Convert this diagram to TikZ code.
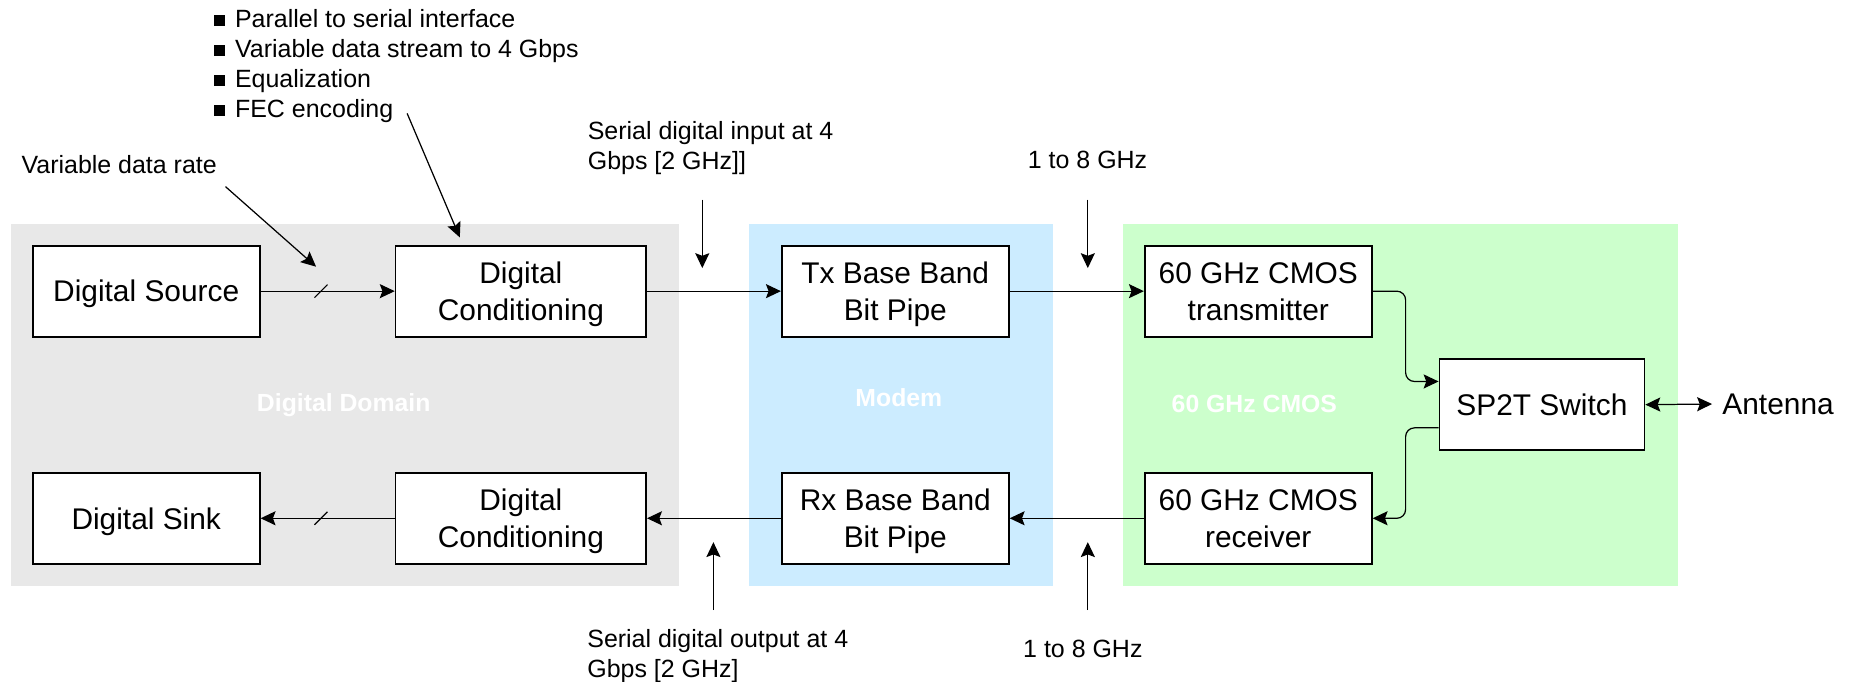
\documentclass[tikz,border=0pt]{standalone}
\usepackage{fontspec}
\setmainfont{Liberation Sans}
\usetikzlibrary{
    arrows.meta,
    calc
}

\definecolor{domaingray}{RGB}{232,232,232}
\definecolor{modemblue}{RGB}{204,236,255}
\definecolor{cmosgreen}{RGB}{204,255,204}

\newcommand{\boxfont}{\fontsize{17}{21}\selectfont}
\newcommand{\notefont}{\fontsize{14.2}{17.1}\selectfont}
\newcommand{\regionfont}{\fontsize{14.1}{17}\selectfont\bfseries}
\newcommand{\sqbullet}{\rule[0.08em]{0.44em}{0.44em}\hspace{0.4em}}

\begin{document}
\begin{tikzpicture}[x=0.2362mm, y=-0.2362mm,
    >={Stealth[length=8.5pt, width=8pt, inset=1.5pt]},
    block/.style={draw, fill=white, line width=1pt, minimum width=45.4mm,
        minimum height=18.2mm, align=center, inner sep=0pt, font=\boxfont,
        text depth=0pt},
    wideblock/.style={block, minimum width=50.1mm},
    region/.style={text=white, font=\regionfont},
    note/.style={font=\notefont, align=left, inner sep=0pt},
    link/.style={->, line width=0.7pt},
    busmark/.style={line width=0.7pt}
]
    \useasboundingbox (0,0) rectangle (1568,577);

    \fill[domaingray] (9,190) rectangle (575,496);
    \fill[modemblue] (634,190) rectangle (891.5,496);
    \fill[cmosgreen] (951,190) rectangle (1421,496);
    \node[region] (digdom) at (291,343) {Digital Domain};
    \node[region] (modem) at (761,337) {Modem};
    \node[region] (cmos) at (1062,342) {60 GHz CMOS};

    \node[block] (src) at (123.8,246.5) {Digital Source};
    \node[wideblock] (condtx) at (441,246.5) {Digital\\Conditioning};
    \node[block] (txbb) at (758,246.5) {Tx Base Band\\Bit Pipe};
    \node[block] (tx) at (1065.3,246.5) {60 GHz CMOS\\transmitter};
    \node[block, minimum width=41mm] (sw) at (1305.5,342.6) {SP2T Switch};
    \node[block] (sink) at (123.8,438.8) {Digital Sink};
    \node[wideblock] (condrx) at (441,438.8) {Digital\\Conditioning};
    \node[block] (rxbb) at (758,438.8) {Rx Base Band\\Bit Pipe};
    \node[block] (rx) at (1065.3,438.8) {60 GHz CMOS\\receiver};
    \node[font=\boxfont, anchor=west, inner sep=0pt] (ant) at (1458,342) {Antenna};

    \draw[link] (src.east) -- (condtx.west);
    \draw[link] (condtx.east) -- (txbb.west);
    \draw[link] (txbb.east) -- (tx.west);
    \draw[link] (rx.west) -- (rxbb.east);
    \draw[link] (rxbb.west) -- (condrx.east);
    \draw[link] (condrx.west) -- (sink.east);
    \draw[<->, line width=0.7pt, shorten >=2mm] (sw.east) -- (ant.west);

    \coordinate (bustx) at ($(src.east)!0.45!(condtx.west)$);
    \coordinate (busrx) at ($(sink.east)!0.45!(condrx.west)$);
    \draw[busmark] (bustx) ++(-5.5,5.5) -- ++(11,-11);
    \draw[busmark] (busrx) ++(-5.5,5.5) -- ++(11,-11);

    \coordinate (bend) at ($(tx.east)!0.5!(sw.west)$);
    \coordinate (swin) at ($(sw.north west)!0.25!(sw.south west)$);
    \coordinate (swout) at ($(sw.north west)!0.75!(sw.south west)$);
    \draw[link, rounded corners=5pt] (tx.east) -| (bend |- swin) -- (swin);
    \draw[link, rounded corners=5pt] (swout) -| (bend |- rx.east) -- (rx.east);

    \node[note, anchor=north west] (features) at (181,7.9)
        {\sqbullet Parallel to serial interface\\
         \sqbullet Variable data stream to 4 Gbps\\
         \sqbullet Equalization\\
         \sqbullet FEC encoding};
    \node[note, anchor=west] (rate) at (18,139) {Variable data rate};
    \node[note, anchor=north west] (serin) at (497.4,102.4)
        {Serial digital input at 4\\Gbps [2 GHz]]};
    \node[note, anchor=west] (freqtx) at (870,135.5) {1 to 8 GHz};
    \node[note, anchor=north west] (serout) at (497,532.4)
        {Serial digital output at 4\\Gbps [2 GHz]};
    \node[note, anchor=west] (freqrx) at (866,549) {1 to 8 GHz};

    \coordinate (ratetail) at (190.9,158);
    \coordinate (ratehead) at (267.6,225.8);
    \coordinate (fectail) at (344.7,96);
    \coordinate (fechead) at (389.3,201);
    \coordinate (serintail) at (594.6,169);
    \coordinate (serinhead) at (594.6,227);
    \coordinate (freqtxtail) at (921,169);
    \coordinate (freqtxhead) at (921,227);
    \coordinate (serouttail) at (604,516.5);
    \coordinate (serouthead) at (604,459);
    \coordinate (freqrxtail) at (921,516.5);
    \coordinate (freqrxhead) at (921,459);
    \draw[link] (ratetail) -- (ratehead);
    \draw[link] (fectail) -- (fechead);
    \draw[link] (serintail) -- (serinhead);
    \draw[link] (freqtxtail) -- (freqtxhead);
    \draw[link] (serouttail) -- (serouthead);
    \draw[link] (freqrxtail) -- (freqrxhead);
\end{tikzpicture}
\end{document}
